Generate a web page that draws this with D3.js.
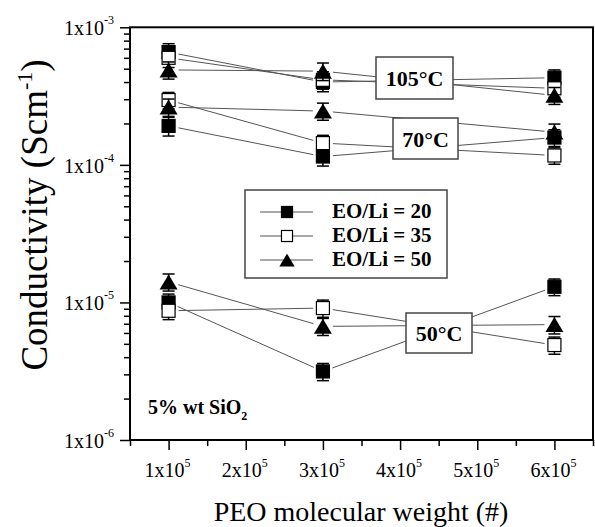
<!DOCTYPE html>
<html lang="en">
<head>
<meta charset="UTF-8">
<title>Conductivity vs PEO molecular weight</title>
<style>
  body { margin: 0; background: #fff; }
  svg { display: block; }
  text { font-family: "Liberation Serif", "Times New Roman", serif; fill: #000; }
  .lbl { font-weight: bold; }
</style>
</head>
<body>
<svg width="595" height="527"></svg>
<script src="https://d3js.org/d3.v7.min.js"></script>
<script>
// molecular weights measured
const mw = [1e5, 3e5, 6e5];
const xTicks = [1e5, 2e5, 3e5, 4e5, 5e5, 6e5];
const xMinor = [0.5e5, 1.5e5, 2.5e5, 3.5e5, 4.5e5, 5.5e5, 6.5e5];
const yTicks = [1e-6, 1e-5, 1e-4, 1e-3];
const yExp = [-6, -5, -4, -3];

// conductivity (S/cm), rows = 105°C, 70°C, 50°C
const eo20 = [[6.6e-4, 4.0e-4, 4.3e-4], [1.92e-4, 1.15e-4, 1.58e-4], [1.0e-5, 3.15e-6, 1.3e-5]];
const eo35 = [[6.0e-4, 4.15e-4, 3.6e-4], [2.96e-4, 1.44e-4, 1.17e-4], [8.7e-6, 9.1e-6, 4.9e-6]];
const eo50 = [[4.9e-4, 4.8e-4, 3.2e-4], [2.63e-4, 2.46e-4, 1.73e-4], [1.41e-5, 6.7e-6, 6.9e-6]];
// error bars (S/cm)
const err20 = [[1.0e-4, 0.6e-4, 0.6e-4], [0.3e-4, 0.17e-4, 0.22e-4], [1.5e-6, 0.45e-6, 1.8e-6]];
const err35 = [[0.9e-4, 0.6e-4, 0.5e-4], [0.4e-4, 0.2e-4, 0.16e-4], [1.2e-6, 1.3e-6, 0.7e-6]];
const err50 = [[0.7e-4, 0.7e-4, 0.45e-4], [0.38e-4, 0.35e-4, 0.25e-4], [2.0e-6, 0.95e-6, 1.0e-6]];

const seriesNames = ["EO/Li = 20", "EO/Li = 35", "EO/Li = 50"];
const tempLabels = ["105°C", "70°C", "50°C"];

const svg = d3.select("svg");
const L = 130, R = 593, T = 27.3, B = 440;

const x = d3.scaleLinear().domain([0.5e5, 6.5e5]).range([L, R]);
const y = d3.scaleLog().domain([1e-6, 1e-3]).range([B, T]);

// --- axes ---
svg.append("g").attr("transform", `translate(0,${B})`)
  .call(d3.axisBottom(x).tickValues(xTicks).tickSize(10).tickFormat(""))
  .call(g => g.select(".domain").remove())
  .call(g => g.selectAll("line").attr("stroke-width", 1.5));
svg.append("g").attr("transform", `translate(0,${B})`)
  .call(d3.axisBottom(x).tickValues(xMinor).tickSize(6).tickFormat(""))
  .call(g => g.select(".domain").remove())
  .call(g => g.selectAll("line").attr("stroke-width", 1.5));

const yMinor = [];
[-6, -5, -4].forEach(e => { for (let k = 2; k <= 9; k++) yMinor.push(k * Math.pow(10, e)); });
svg.append("g").attr("transform", `translate(${L},0)`)
  .call(d3.axisLeft(y).tickValues(yTicks).tickSize(10).tickFormat(""))
  .call(g => g.select(".domain").remove())
  .call(g => g.selectAll("line").attr("stroke-width", 1.5));
svg.append("g").attr("transform", `translate(${L},0)`)
  .call(d3.axisLeft(y).tickValues(yMinor).tickSize(6).tickFormat(""))
  .call(g => g.select(".domain").remove())
  .call(g => g.selectAll("line").attr("stroke-width", 1.5));

// frame
svg.append("rect").attr("x", L).attr("y", T).attr("width", R - L).attr("height", B - T)
  .attr("fill", "none").attr("stroke", "#000").attr("stroke-width", 2);

// x tick labels
xTicks.forEach(v => {
  const t = svg.append("text").attr("x", x(v) - 1).attr("y", 477)
    .attr("text-anchor", "middle").style("font-size", "20px");
  t.append("tspan").text(`${v / 1e5}x10`);
  t.append("tspan").attr("dy", -10).style("font-size", "12px").text("5");
});
// y tick labels
yTicks.forEach((v, i) => {
  const t = svg.append("text").attr("x", 114).attr("y", y(v) + 8)
    .attr("text-anchor", "end").style("font-size", "20px");
  t.append("tspan").text("1x10");
  t.append("tspan").attr("dy", -11).style("font-size", "12px").text(yExp[i]);
});

// axis titles
svg.append("text").attr("x", 361).attr("y", 521).attr("text-anchor", "middle")
  .style("font-size", "28px").text("PEO molecular weight (#)");
const yt = svg.append("text").attr("transform", "translate(47,215) rotate(-90)")
  .attr("text-anchor", "middle").style("font-size", "37px");
yt.append("tspan").text("Conductivity (Scm");
yt.append("tspan").attr("dy", -15).style("font-size", "22px").text("-1");
yt.append("tspan").attr("dy", 15).text(")");

// --- connecting lines (shortened near markers) ---
const allSeries = [eo20, eo35, eo50];
const allErr = [err20, err35, err50];
const gap = 10;
allSeries.forEach(s => {
  s.forEach(row => {
    for (let i = 0; i < row.length - 1; i++) {
      const x1 = x(mw[i]), y1 = y(row[i]), x2 = x(mw[i + 1]), y2 = y(row[i + 1]);
      const len = Math.hypot(x2 - x1, y2 - y1), ux = (x2 - x1) / len, uy = (y2 - y1) / len;
      svg.append("line")
        .attr("x1", x1 + ux * gap).attr("y1", y1 + uy * gap)
        .attr("x2", x2 - ux * gap).attr("y2", y2 - uy * gap)
        .attr("stroke", "#555").attr("stroke-width", 1);
    }
  });
});

// temperature label boxes
const boxes = [
  { x: 376, y: 57, w: 77, h: 42 },
  { x: 393, y: 118, w: 65, h: 41 },
  { x: 406, y: 313, w: 66, h: 40 }
];
boxes.forEach((b, i) => {
  svg.append("rect").attr("x", b.x).attr("y", b.y).attr("width", b.w).attr("height", b.h)
    .attr("fill", "#fff").attr("stroke", "#444").attr("stroke-width", 1.5);
  svg.append("text").attr("class", "lbl").attr("x", b.x + b.w / 2).attr("y", b.y + b.h / 2 + 8)
    .attr("text-anchor", "middle").style("font-size", "22px").text(tempLabels[i]);
});

// markers
function marker(g, type, cx, cy, sc) {
  if (type === 2) {
    const w = 9 * sc, h = 15 * sc;
    g.append("path").attr("d", `M${cx},${cy - h / 2}L${cx + w},${cy + h / 2}L${cx - w},${cy + h / 2}Z`)
      .attr("fill", "#000");
  } else {
    const w = 13 * sc, h = 13 * sc;
    g.append("rect").attr("x", cx - w / 2).attr("y", cy - h / 2).attr("width", w).attr("height", h)
      .attr("fill", type === 0 ? "#000" : "#fff").attr("stroke", "#000").attr("stroke-width", 1.2);
  }
}

allSeries.forEach((s, si) => {
  s.forEach((row, ri) => {
    row.forEach((v, i) => {
      const e = allErr[si][ri][i];
      const cx = x(mw[i]);
      const yt1 = y(v + e), yb = y(Math.max(v - e, 1e-7));
      svg.append("line").attr("x1", cx).attr("x2", cx).attr("y1", yt1).attr("y2", yb)
        .attr("stroke", "#000").attr("stroke-width", 1.5);
      [yt1, yb].forEach(yy => svg.append("line").attr("x1", cx - 6).attr("x2", cx + 6)
        .attr("y1", yy).attr("y2", yy).attr("stroke", "#000").attr("stroke-width", 1.5));
      marker(svg, si, cx, y(v), 1);
    });
  });
});

// legend
const lg = svg.append("g");
lg.append("rect").attr("x", 245).attr("y", 190).attr("width", 202).attr("height", 88)
  .attr("fill", "#fff").attr("stroke", "#444").attr("stroke-width", 1.5);
const rowsY = [212, 236, 260];
seriesNames.forEach((n, i) => {
  lg.append("line").attr("x1", 260).attr("x2", 313).attr("y1", rowsY[i]).attr("y2", rowsY[i])
    .attr("stroke", "#555").attr("stroke-width", 1);
  marker(lg, i, 287, rowsY[i], 0.85);
  lg.append("text").attr("class", "lbl").attr("x", 332).attr("y", rowsY[i] + 6)
    .style("font-size", "21px").text(n);
});

// composition note
const note = svg.append("text").attr("class", "lbl").attr("x", 148).attr("y", 414)
  .style("font-size", "20px");
note.append("tspan").text("5% wt SiO");
note.append("tspan").attr("dy", 6).style("font-size", "12px").text("2");
</script>
</body>
</html>
